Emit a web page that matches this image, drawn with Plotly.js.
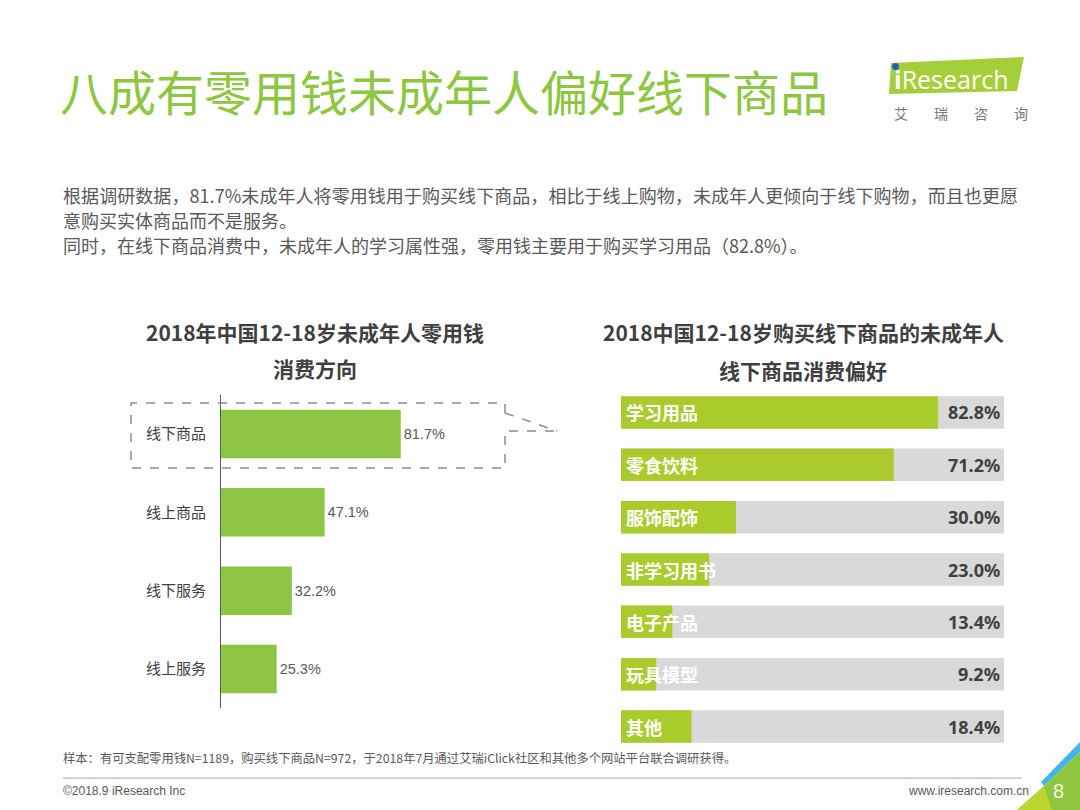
<!DOCTYPE html>
<html>
<head>
<meta charset="utf-8">
<script src="https://cdn.plot.ly/plotly-3.0.1.min.js"></script>
<style>html,body{margin:0;padding:0;background:#fff;}#chart{width:1080px;height:810px;}</style>
</head>
<body>
<div id="chart"></div>
<script>
// ---- data ----
const leftCategories = ['线下商品', '线上商品', '线下服务', '线上服务'];
const leftValues = [81.7, 47.1, 32.2, 25.3];

const rightCategories = ['学习用品', '零食饮料', '服饰配饰', '非学习用书', '电子产品', '玩具模型', '其他'];
const rightValues = [82.8, 71.2, 30.0, 23.0, 13.4, 9.2, 18.4];
const rightFull = [100, 100, 100, 100, 100, 100, 100];

const mainTitle = '八成有零用钱未成年人偏好线下商品';
const paragraphLines = [
  '根据调研数据，81.7%未成年人将零用钱用于购买线下商品，相比于线上购物，未成年人更倾向于线下购物，而且也更愿',
  '意购买实体商品而不是服务。',
  '同时，在线下商品消费中，未成年人的学习属性强，零用钱主要用于购买学习用品（82.8%）。'
];
const leftTitleLines = ['2018年中国12-18岁未成年人零用钱', '消费方向'];
const rightTitleLines = ['2018中国12-18岁购买线下商品的未成年人', '线下商品消费偏好'];
const noteText = '样本：有可支配零用钱N=1189，购买线下商品N=972，于2018年7月通过艾瑞iClick社区和其他多个网站平台联合调研获得。';
const copyrightText = '©2018.9 iResearch Inc';
const siteText = 'www.iresearch.com.cn';
const pageNum = '8';

// ---- helpers (pixel -> paper) ----
const W = 1080, H = 810;
const px = x => x / W;
const py = y => 1 - y / H;
const P = (x, y) => px(x).toFixed(5) + ',' + py(y).toFixed(5);

const CJK = '"Noto Sans CJK SC", "Noto Sans", sans-serif';
const LAT = '"Liberation Sans", Arial, sans-serif';

const traces = [
  {
    type: 'bar', orientation: 'h',
    x: leftValues, y: leftCategories,
    xaxis: 'x', yaxis: 'y',
    marker: {color: '#8CC443'},
    texttemplate: '%{x:.1f}%', textposition: 'outside', cliponaxis: false,
    textfont: {family: LAT, size: 14.5, color: '#595959'},
    hoverinfo: 'skip', showlegend: false
  },
  {
    type: 'bar', orientation: 'h',
    x: rightFull, y: rightCategories,
    xaxis: 'x2', yaxis: 'y2',
    marker: {color: '#D9D9D9'},
    hoverinfo: 'skip', showlegend: false
  },
  {
    type: 'bar', orientation: 'h',
    x: rightValues, y: rightCategories,
    xaxis: 'x2', yaxis: 'y2',
    marker: {color: '#A9CC2C'},
    hoverinfo: 'skip', showlegend: false
  }
];

const annotations = [];
function addText(text, x, y, opts) {
  annotations.push(Object.assign({
    text: text, x: px(x), y: py(y), xref: 'paper', yref: 'paper',
    showarrow: false, xanchor: 'left', yanchor: 'middle', align: 'left'
  }, opts));
}

// main title
addText(mainTitle, 58, 90, {font: {family: CJK, size: 48, color: '#8DC63F'}});
// paragraph
paragraphLines.forEach((t, i) => addText(t, 61, 195 + i * 25, {font: {family: CJK, size: 18, color: '#595959'}}));
// chart titles
const titleFont = {family: CJK, size: 21, color: '#3F3F3F', weight: 'bold'};
leftTitleLines.forEach((t, i) => addText(t, 315, 332 + i * 36, {xanchor: 'center', align: 'center', font: titleFont}));
rightTitleLines.forEach((t, i) => addText(t, 803, 332 + i * 38, {xanchor: 'center', align: 'center', font: titleFont}));

// right chart labels from data
rightCategories.forEach((c, i) => {
  annotations.push({
    text: '<b>' + c + '</b>', x: 0, y: c, xref: 'x2', yref: 'y2',
    showarrow: false, xanchor: 'left', yanchor: 'middle', xshift: 3,
    font: {family: CJK, size: 18, color: '#FFFFFF'}
  });
  annotations.push({
    text: '<b>' + rightValues[i].toFixed(1) + '%</b>', x: 100, y: c, xref: 'x2', yref: 'y2',
    showarrow: false, xanchor: 'right', yanchor: 'middle', xshift: -2,
    font: {family: '"Noto Sans", sans-serif', size: 18, color: '#404040'}
  });
});

// logo
addText('<b>i</b>Research', 892, 79, {font: {family: '"Open Sans", sans-serif', size: 25, color: '#FFFFFF'}});
addText('艾', 892, 113, {font: {family: CJK, size: 14, color: '#777777'}});
addText('瑞', 932, 113, {font: {family: CJK, size: 14, color: '#777777'}});
addText('咨', 972, 113, {font: {family: CJK, size: 14, color: '#777777'}});
addText('询', 1012, 113, {font: {family: CJK, size: 14, color: '#777777'}});

// footer
addText(noteText, 61, 758, {font: {family: CJK, size: 12.3, color: '#595959'}});
addText(copyrightText, 61, 791, {font: {family: LAT, size: 12, color: '#595959'}});
addText(siteText, 1031, 791, {xanchor: 'right', align: 'right', font: {family: LAT, size: 12, color: '#595959'}});
addText(pageNum, 1058, 791, {xanchor: 'center', align: 'center', font: {family: LAT, size: 20, color: '#F4F8E8'}});

const dash = {color: '#8C8C8C', width: 1.5, dash: 'dash'};
const shapes = [
  // dashed callout box
  {type: 'path', xref: 'paper', yref: 'paper', line: dash,
   path: 'M' + P(505, 413) + ' L' + P(505, 403) + ' L' + P(131, 403) + ' L' + P(131, 468) + ' L' + P(505, 468) + ' L' + P(505, 431) + ' L' + P(557, 431)},
  {type: 'path', xref: 'paper', yref: 'paper', line: dash,
   path: 'M' + P(505, 413) + ' L' + P(557, 431)},
  // logo green parallelogram
  {type: 'path', xref: 'paper', yref: 'paper', line: {width: 0}, fillcolor: '#A6CE39', layer: 'below',
   path: 'M' + P(891, 63) + ' L' + P(1024, 57) + ' L' + P(1017, 91) + ' L' + P(889, 94) + ' Z'},
  {type: 'circle', xref: 'paper', yref: 'paper', line: {width: 0}, fillcolor: '#1E64B4',
   x0: px(892), x1: px(899), y0: py(70), y1: py(63)},
  // footer rule
  {type: 'line', xref: 'paper', yref: 'paper', line: {color: '#A6A6A6', width: 1},
   x0: px(63), x1: px(1022), y0: py(778), y1: py(778)},
  // corner decoration
  {type: 'path', xref: 'paper', yref: 'paper', line: {width: 0}, fillcolor: '#43B5E8', layer: 'below',
   path: 'M' + P(1041, 782) + ' L' + P(1080, 742) + ' L' + P(1080, 752) + ' L' + P(1044, 786) + ' Z'},
  {type: 'path', xref: 'paper', yref: 'paper', line: {width: 0}, fillcolor: '#8DC63F', layer: 'below',
   path: 'M' + P(1017, 810) + ' L' + P(1044, 786) + ' L' + P(1080, 752) + ' L' + P(1080, 810) + ' Z'},
  {type: 'path', xref: 'paper', yref: 'paper', line: {width: 0}, fillcolor: '#BCD631', layer: 'below',
   path: 'M' + P(1017, 810) + ' L' + P(1044, 786) + ' L' + P(1052, 810) + ' Z'}
];

const layout = {
  width: W, height: H,
  margin: {l: 0, r: 0, t: 0, b: 0},
  paper_bgcolor: '#FFFFFF', plot_bgcolor: 'rgba(0,0,0,0)',
  barmode: 'overlay',
  bargap: 0.38,
  showlegend: false,
  xaxis: {domain: [px(221), px(441)], range: [0, 100], visible: false, fixedrange: true},
  yaxis: {domain: [py(708.2), py(394.8)], type: 'category', categoryarray: leftCategories,
          range: [3.5, -0.5], showline: true, linecolor: '#595959', linewidth: 1,
          ticks: 'outside', ticklen: 11, tickcolor: 'rgba(0,0,0,0)', showgrid: false, zeroline: false,
          tickfont: {family: CJK, size: 15, color: '#404040'}, fixedrange: true},
  xaxis2: {domain: [px(621), px(1004)], range: [0, 100], visible: false, fixedrange: true, anchor: 'y2'},
  yaxis2: {domain: [py(752.7), py(386.3)], type: 'category', categoryarray: rightCategories,
           range: [6.5, -0.5], visible: false, anchor: 'x2', fixedrange: true},
  annotations: annotations,
  shapes: shapes
};

Plotly.newPlot('chart', traces, layout, {displayModeBar: false, staticPlot: true}).then(() => {
  // emulate justified first paragraph line
  document.querySelectorAll('.annotation-text').forEach(el => {
    if (el.textContent === paragraphLines[0]) {
      el.setAttribute('textLength', '955');
      el.setAttribute('lengthAdjust', 'spacing');
    }
  });
});
</script>
</body>
</html>
